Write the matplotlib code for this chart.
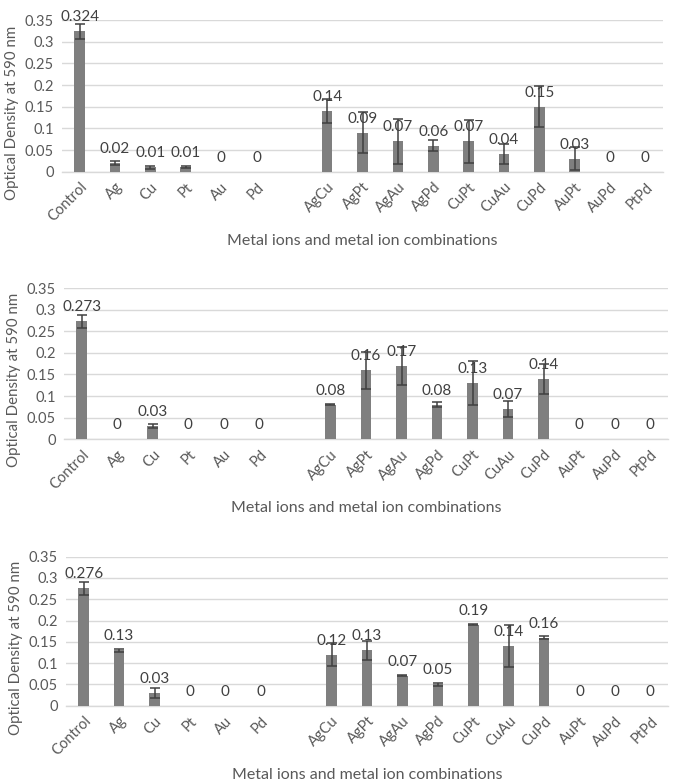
import matplotlib
matplotlib.use("Agg")
import matplotlib.pyplot as plt
import numpy as np

plt.rcParams['font.family'] = ['Lato', 'DejaVu Sans']

categories = ["Control", "Ag", "Cu", "Pt", "Au", "Pd",
              "AgCu", "AgPt", "AgAu", "AgPd", "CuPt", "CuAu", "CuPd", "AuPt", "AuPd", "PtPd"]

values_1 = [0.324, 0.02, 0.01, 0.01, 0, 0, 0.14, 0.09, 0.07, 0.06, 0.07, 0.04, 0.15, 0.03, 0, 0]
errors_1 = [0.017, 0.005, 0.003, 0.002, 0, 0, 0.028, 0.048, 0.052, 0.012, 0.05, 0.023, 0.048, 0.027, 0, 0]

values_2 = [0.273, 0, 0.03, 0, 0, 0, 0.08, 0.16, 0.17, 0.08, 0.13, 0.07, 0.14, 0, 0, 0]
errors_2 = [0.015, 0, 0.005, 0, 0, 0, 0.001, 0.043, 0.044, 0.006, 0.05, 0.019, 0.035, 0, 0, 0]

values_3 = [0.276, 0.13, 0.03, 0, 0, 0, 0.12, 0.13, 0.07, 0.05, 0.19, 0.14, 0.16, 0, 0, 0]
errors_3 = [0.015, 0.003, 0.011, 0, 0, 0, 0.027, 0.023, 0.001, 0.003, 0.001, 0.05, 0.003, 0, 0, 0]

yticks = [0, 0.05, 0.1, 0.15, 0.2, 0.25, 0.3, 0.35]
ytick_labels = ["0", "0.05", "0.1", "0.15", "0.2", "0.25", "0.3", "0.35"]

xlabel = "Metal ions and metal ion combinations"
ylabel = "Optical Density at 590 nm"

W, H = 675, 783
fig = plt.figure(figsize=(W / 100, H / 100), dpi=100)

# slot positions with one empty slot between single ions and combinations
pos = list(range(6)) + list(range(7, 17))

panels = [
    (values_1, errors_1, (62, 663, 20, 171.7)),
    (values_2, errors_2, (64, 668, 288, 439.3)),
    (values_3, errors_3, (66, 668, 556.7, 705.7)),
]

text_col = "#595959"
for vals, errs, (l, r, t, b) in panels:
    ax = fig.add_axes([l / W, 1 - b / H, (r - l) / W, (b - t) / H])
    ax.bar(pos, vals, width=0.3, color="#7f7f7f", zorder=3)
    ex = [x for x, e in zip(pos, errs) if e > 0]
    ev = [v for v, e in zip(vals, errs) if e > 0]
    ee = [e for e in errs if e > 0]
    ax.errorbar(ex, ev, yerr=ee, fmt="none", ecolor="#404040",
                elinewidth=1.1, capsize=3.5, capthick=1.1, zorder=4)
    for x, v in zip(pos, vals):
        ax.annotate(f"{v:g}", (x, v), xytext=(0, 5), textcoords="offset points",
                    ha="center", va="bottom", fontsize=11, color="#404040",
                    zorder=5, annotation_clip=False)
    ax.set_xlim(-0.5, 16.5)
    ax.set_ylim(0, 0.35)
    ax.set_yticks(yticks)
    ax.set_yticklabels(ytick_labels)
    ax.set_xticks(pos)
    ax.set_xticklabels(categories, rotation=45, ha="right", rotation_mode="anchor")
    ax.tick_params(axis="both", length=0, labelsize=10.5, labelcolor=text_col)
    ax.tick_params(axis="x", pad=6)
    ax.tick_params(axis="y", pad=6)
    ax.grid(axis="y", color="#d9d9d9", linewidth=1.0, zorder=0)
    for s in ["top", "right", "left"]:
        ax.spines[s].set_visible(False)
    ax.spines["bottom"].set_color("#d9d9d9")
    ax.spines["bottom"].set_linewidth(1.0)
    ax.set_xlabel(xlabel, fontsize=11.5, color=text_col)
    ax.xaxis.set_label_coords(0.5, -69 / (b - t))
    ax.xaxis.label.set_va("center")
    ax.set_ylabel(ylabel, fontsize=10.8, color=text_col)
    ax.yaxis.set_label_coords(-50 / (r - l), 0.39)
    ax.yaxis.label.set_va("center")

fig.savefig("out.png", dpi=100, facecolor="white")
